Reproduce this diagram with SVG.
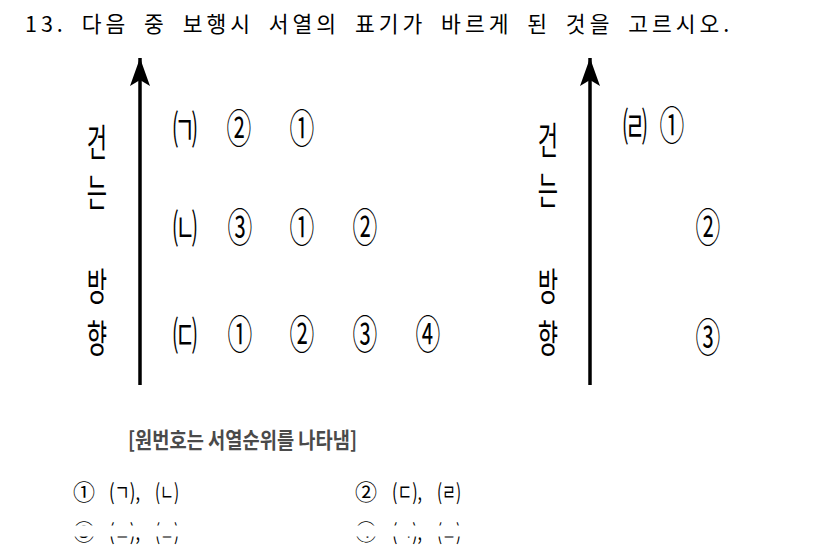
<svg xmlns="http://www.w3.org/2000/svg" width="826" height="546" viewBox="0 0 826 546">
<style>
text{font-family:"Noto Sans CJK KR","Noto Sans",sans-serif;fill:#000;}
.title{font-size:21.5px;letter-spacing:4px;word-spacing:6px;}
.vlab{font-size:38px;text-anchor:middle;dominant-baseline:central;}
.item{font-size:40px;text-anchor:middle;dominant-baseline:central;}
.cap{font-size:22px;fill:#4a4a4a;font-weight:bold;dominant-baseline:central;}
.opt{font-size:22px;dominant-baseline:central;}
.axis{stroke:#000;stroke-width:3.5;fill:none;}
</style>
<defs>
<marker id="ah" markerUnits="userSpaceOnUse" markerWidth="30" markerHeight="22" refX="28" refY="11" orient="auto" viewBox="0 0 30 22">
<path d="M28 11 L0 1 L6 11 L0 21 Z" fill="#000"/>
</marker>
<clipPath id="cut">
<rect x="0" y="515" width="826" height="10.5"/>
<rect x="0" y="536.5" width="826" height="10"/>
</clipPath>
</defs>
<rect width="826" height="546" fill="#fff"/>

<g id="title"><text class="title" x="25" y="32">13. 다음 중 보행시 서열의 표기가 바르게 된 것을 고르시오.</text></g>

<g id="connectors">
<line class="axis" x1="140" y1="385" x2="140" y2="58" marker-end="url(#ah)"/>
<line class="axis" x1="590" y1="385" x2="590" y2="58" marker-end="url(#ah)"/>
</g>

<g id="left-label">
<text class="vlab" transform="translate(97,139) scale(0.58,1)">건</text>
<text class="vlab" transform="translate(97,189) scale(0.58,1)">는</text>
<text class="vlab" transform="translate(97,283) scale(0.58,1)">방</text>
<text class="vlab" transform="translate(97,335) scale(0.58,1)">향</text>
</g>
<g id="right-label">
<text class="vlab" transform="translate(548,137) scale(0.58,1)">건</text>
<text class="vlab" transform="translate(548,187) scale(0.58,1)">는</text>
<text class="vlab" transform="translate(548,283) scale(0.58,1)">방</text>
<text class="vlab" transform="translate(548,335) scale(0.58,1)">향</text>
</g>

<g id="row-a">
<text class="item" transform="translate(185,126) scale(0.6,1)">㈀</text>
<text class="item" transform="translate(239,126) scale(0.62,1)">②</text>
<text class="item" transform="translate(302,126) scale(0.62,1)">①</text>
</g>
<g id="row-b">
<text class="item" transform="translate(185,225) scale(0.6,1)">㈁</text>
<text class="item" transform="translate(240,225) scale(0.62,1)">③</text>
<text class="item" transform="translate(302,225) scale(0.62,1)">①</text>
<text class="item" transform="translate(365,225) scale(0.62,1)">②</text>
</g>
<g id="row-c">
<text class="item" transform="translate(185,332) scale(0.6,1)">㈂</text>
<text class="item" transform="translate(240,332) scale(0.62,1)">①</text>
<text class="item" transform="translate(302,332) scale(0.62,1)">②</text>
<text class="item" transform="translate(365,332) scale(0.62,1)">③</text>
<text class="item" transform="translate(428,332) scale(0.62,1)">④</text>
</g>
<g id="row-d">
<text class="item" transform="translate(635,123) scale(0.6,1)">㈃</text>
<text class="item" transform="translate(672,123) scale(0.62,1)">①</text>
<text class="item" transform="translate(708,225) scale(0.62,1)">②</text>
<text class="item" transform="translate(708,335) scale(0.62,1)">③</text>
</g>

<g id="caption"><text class="cap" x="128" y="438" textLength="229" lengthAdjust="spacingAndGlyphs">[원번호는 서열순위를 나타냄]</text></g>

<g id="options">
<text class="opt" x="73" y="490" textLength="22" lengthAdjust="spacingAndGlyphs">①</text>
<text class="opt" x="109" y="490" textLength="31" lengthAdjust="spacingAndGlyphs">(ㄱ),</text>
<text class="opt" x="155" y="490" textLength="24" lengthAdjust="spacingAndGlyphs">(ㄴ)</text>
<text class="opt" x="355" y="490" textLength="22" lengthAdjust="spacingAndGlyphs">②</text>
<text class="opt" x="392" y="490" textLength="30" lengthAdjust="spacingAndGlyphs">(ㄷ),</text>
<text class="opt" x="437" y="490" textLength="24" lengthAdjust="spacingAndGlyphs">(ㄹ)</text>
<g clip-path="url(#cut)">
<text class="opt" x="73" y="530" textLength="22" lengthAdjust="spacingAndGlyphs">③</text>
<text class="opt" x="109" y="530" textLength="31" lengthAdjust="spacingAndGlyphs">(ㄴ),</text>
<text class="opt" x="155" y="530" textLength="24" lengthAdjust="spacingAndGlyphs">(ㄷ)</text>
<text class="opt" x="355" y="530" textLength="22" lengthAdjust="spacingAndGlyphs">④</text>
<text class="opt" x="392" y="530" textLength="30" lengthAdjust="spacingAndGlyphs">(ㄱ),</text>
<text class="opt" x="437" y="530" textLength="24" lengthAdjust="spacingAndGlyphs">(ㄹ)</text>
</g>
</g>
</svg>
